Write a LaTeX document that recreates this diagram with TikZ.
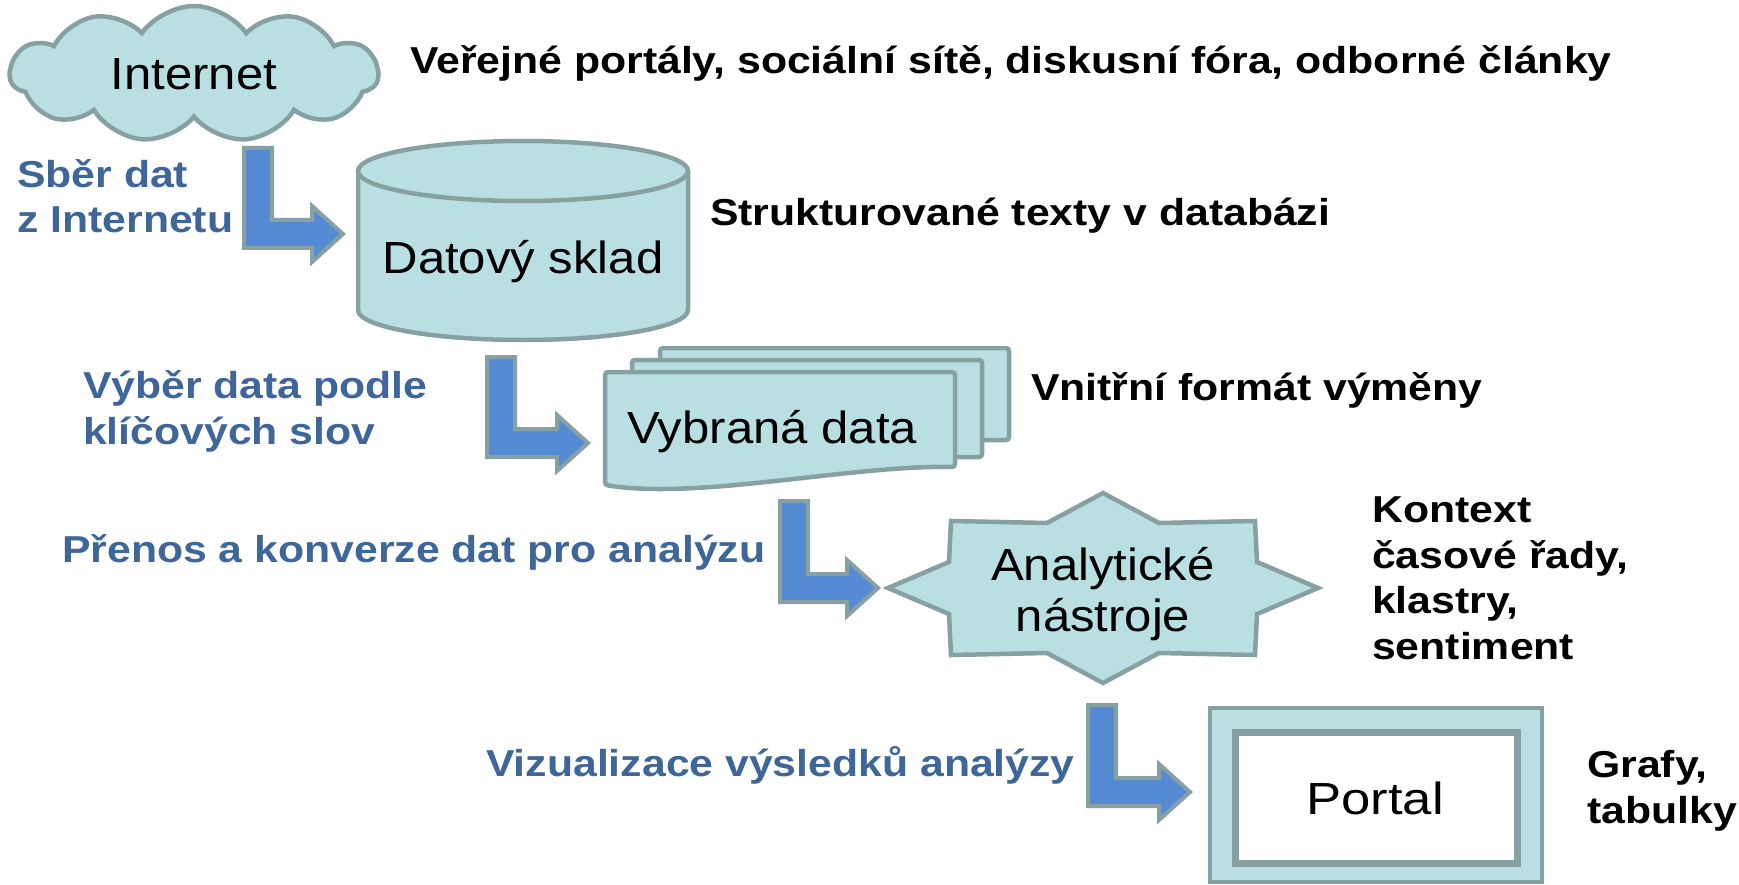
\documentclass[tikz,border=0pt]{standalone}
\usepackage{fontspec}
\setmainfont{Liberation Sans}
\newfontfamily\labelfont{Liberation Sans}[FakeStretch=1.14]
\newfontfamily\shapefont{Liberation Sans}[FakeStretch=1.09]
\newfontfamily\portalfont{Liberation Sans}[FakeStretch=1.17]
\usetikzlibrary{calc,shapes.symbols}

\definecolor{shapefill}{RGB}{185,223,227}
\definecolor{shapeedge}{RGB}{135,160,162}
\definecolor{arrowblue}{RGB}{85,139,212}
\definecolor{labelblue}{RGB}{62,102,153}

\begin{document}
\begin{tikzpicture}[x=1pt,y=-1pt,
  box/.style={fill=shapefill,draw=shapeedge,line width=4.5pt},
  boxtext/.style={font=\shapefont\fontsize{45}{51}\selectfont,align=center,inner sep=0pt},
  note/.style={font=\labelfont\bfseries\fontsize{37.5}{45.5}\selectfont,align=left,inner sep=0pt,anchor=base west},
  flowlabel/.style={note,text=labelblue},
  bend arrow/.style={fill=arrowblue,draw=shapeedge,line width=4pt,
    to path={let \p1=(\tikztostart),\p2=(\tikztotarget) in
      (\x1-14pt,\y1) -- (\x1+14pt,\y1) -- (\x1+14pt,\y2+14pt) -- (\x2-31pt,\y2+14pt)
      -- (\x2-31pt,\y2+28pt) -- (\x2,\y2) -- (\x2-31pt,\y2-28pt) -- (\x2-31pt,\y2-14pt)
      -- (\x1-14pt,\y2-14pt) -- cycle}}]
\useasboundingbox (0,0) rectangle (1739,885);

% cloud
\node[cloud,cloud puffs=11,cloud puff arc=110,cloud ignores aspect,box,boxtext,
  minimum width=368pt,minimum height=136pt] (net) at (194,74) {Internet};

% data store
\draw[box] (358,171) -- (358,310) arc[start angle=180,end angle=360,x radius=165pt,y radius=30pt] -- (688,171);
\draw[box] (523,171) ellipse[x radius=165pt,y radius=30pt];
\node[boxtext] (db) at (523,262) {Datový sklad};

% selected data
\draw[box,rounded corners=3pt] (660,348) rectangle (1009,440);
\draw[box,rounded corners=3pt] (632,360) rectangle (982,457);
\draw[box,rounded corners=3pt] (955,467) .. controls (850,465) and (700,500) .. (605,485)
  -- (605,372) -- (955,372) -- cycle;
\node[boxtext] (sel) at (772,432) {Vybraná data};

% tools
\draw[box] (1103,493) -- (1159,523) -- (1255,521) -- (1257,562) -- (1318,588)
  -- (1257,614) -- (1255,655) -- (1159,653) -- (1103,683) -- (1047,653)
  -- (951,655) -- (949,614) -- (888,588) -- (949,562) -- (951,521)
  -- (1047,523) -- cycle;
\node[boxtext] (tools) at (1103,594) {Analytické\\nástroje};

% portal
\draw[box] (1210,708) rectangle (1542,882);
\draw[fill=white,draw=shapeedge,line width=7pt] (1235,732) rectangle (1517,863);
\node[boxtext,font=\portalfont\fontsize{45}{51}\selectfont] (portal) at (1375,798) {Portal};

% steps
\coordinate (s1) at (258,148);
\coordinate (t1) at (343,234);
\coordinate (s2) at (501,357);
\coordinate (t2) at (588,443);
\coordinate (s3) at (794,501);
\coordinate (t3) at (878,588);
\coordinate (s4) at (1102,705);
\coordinate (t4) at (1190,792);
\draw[bend arrow] (s1) to (t1);
\draw[bend arrow] (s2) to (t2);
\draw[bend arrow] (s3) to (t3);
\draw[bend arrow] (s4) to (t4);

% labels (multi-line ones sit on their last line)
\node[note] (webnote) at (410,74) {Veřejné portály, sociální sítě, diskusní fóra, odborné články};
\node[note] (dbnote) at (710,226) {Strukturované texty v databázi};
\node[note] (selnote) at (1031,400) {Vnitřní formát výměny};
\node[note] (toolsnote) at (1372,659) {Kontext\\časové řady,\\klastry,\\sentiment};
\node[note] (portalnote) at (1587,823) {Grafy,\\tabulky};

\node[flowlabel] (step1) at (17,233) {Sběr dat\\z Internetu};
\node[flowlabel] (step2) at (83,444) {Výběr data podle\\klíčových slov};
\node[flowlabel] (step3) at (62,562) {Přenos a konverze dat pro analýzu};
\node[flowlabel] (step4) at (486,776) {Vizualizace výsledků analýzy};
\end{tikzpicture}
\end{document}
